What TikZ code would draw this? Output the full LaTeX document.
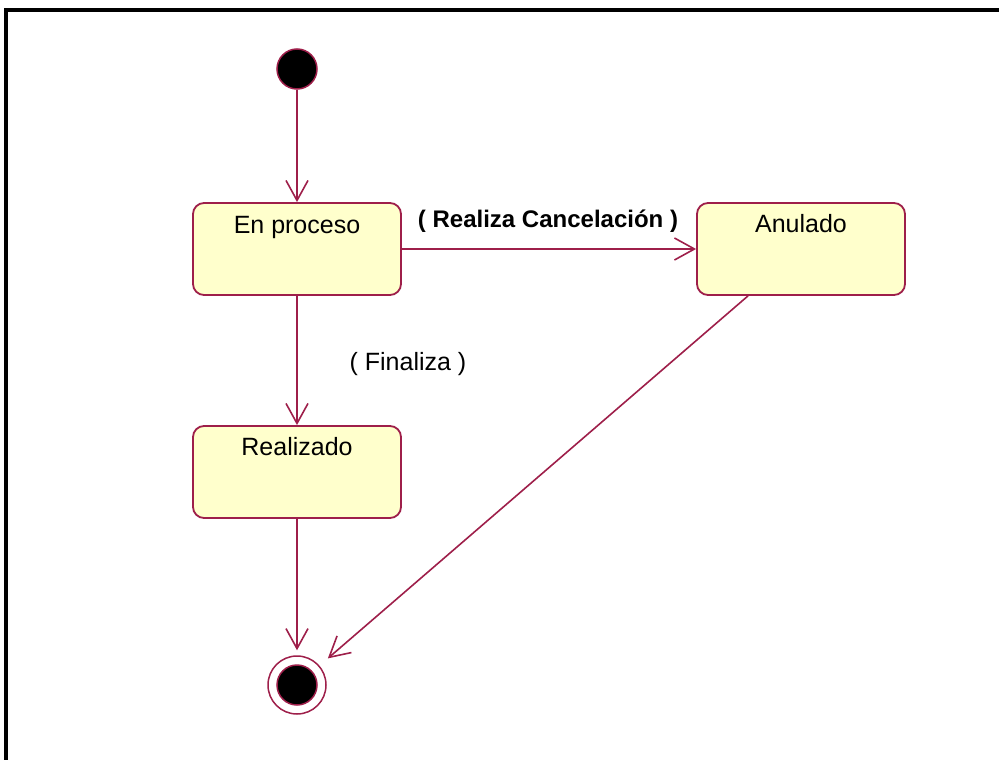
\documentclass[tikz,border=0pt]{standalone}
\usepackage{fontspec}
\setmainfont{Liberation Sans}
\usetikzlibrary{arrows.meta}
\definecolor{umlline}{HTML}{9E1F4A}
\definecolor{umlfill}{HTML}{FFFFCC}
\begin{document}
\begin{tikzpicture}[x=1pt,y=-1pt,
  statebox/.style={draw=umlline,fill=umlfill,line width=1.8pt,rounded corners=11pt,
    minimum width=208pt,minimum height=92pt,inner sep=0pt},
  statename/.style={anchor=base,font=\fontsize{25}{30}\selectfont},
  trans/.style={draw=umlline,line width=1.6pt,-{Straight Barb[length=20pt,width=22pt,line width=1.6pt]}},
  guard/.style={anchor=base,font=\fontsize{25}{30}\selectfont},
  initdot/.style={circle,draw=umlline,fill=black,line width=1.5pt,minimum size=40pt,inner sep=0pt},
  finring/.style={circle,draw=umlline,fill=white,line width=1.5pt,minimum size=58pt,inner sep=0pt},
  findot/.style={circle,draw=umlline,fill=black,line width=1.5pt,minimum size=40pt,inner sep=0pt}]
\useasboundingbox (0,0) rectangle (999,760);
% frame
\draw[line width=4.5pt] (6,760) -- (6,10) -- (999,10);

% states
\node[initdot] (ini) at (297,69) {};
\node[statebox] (proc) at (297,249) {};
\node[statename] at (297,233) {En proceso};
\node[statebox] (anul) at (801,249) {};
\node[statename] at (801,232) {Anulado};
\node[statebox] (real) at (297,472) {};
\node[statename] at (297,455) {Realizado};
\node[finring] (fin) at (297,685) {};
\node[findot] (findot) at (297,685) {};

% transitions
\draw[trans] (ini) -- (proc.north);
\draw[trans] (proc.east) -- (anul.west);
\node[guard,font=\bfseries\fontsize{24}{29}\selectfont] (lcanc) at (548,227) {( Realiza Cancelación )};
\draw[trans] (proc.south) -- (real.north);
\node[guard] (lfin) at (408,370) {( Finaliza )};
\draw[trans,shorten >=5pt] (real.south) -- (fin.north);
\coordinate (anulout) at ([xshift=-53pt]anul.south);
\draw[trans,shorten >=11pt] (anulout) -- (fin);
\end{tikzpicture}
\end{document}
